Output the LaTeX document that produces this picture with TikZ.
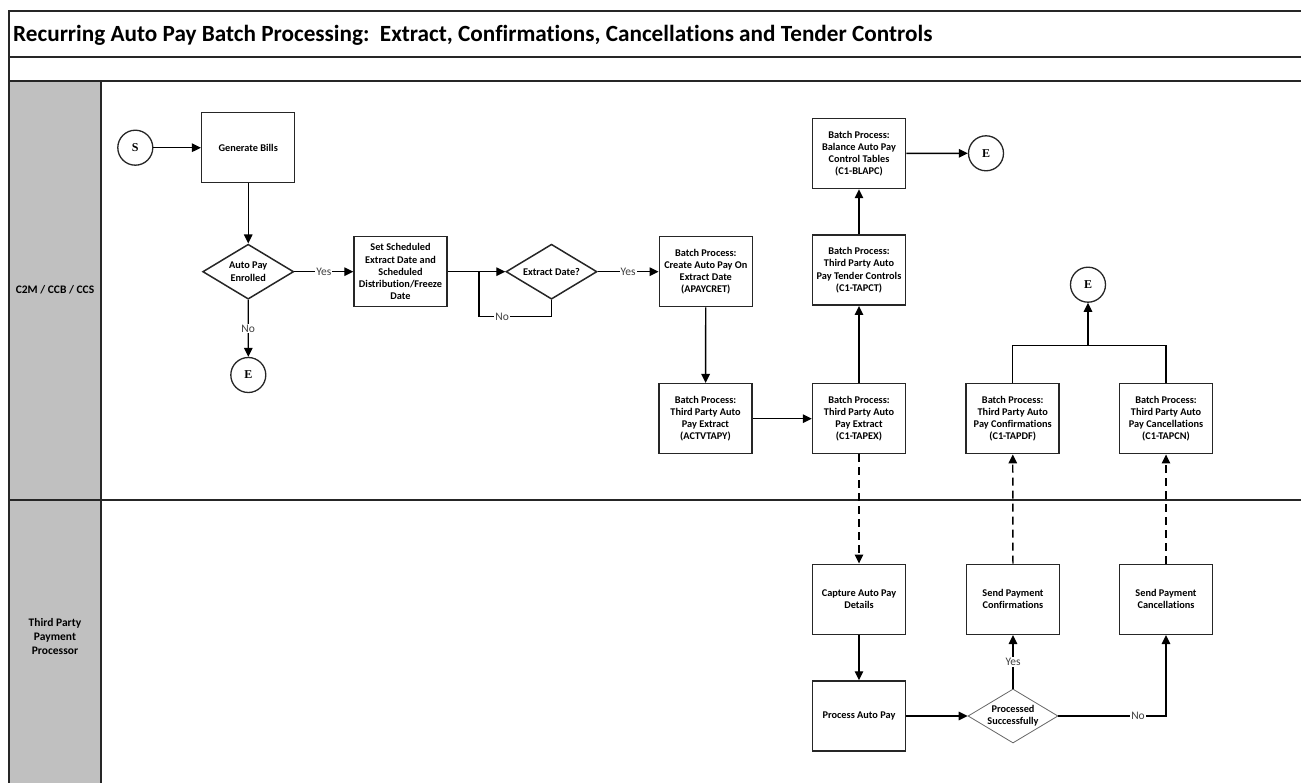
\documentclass[tikz,border=0pt]{standalone}
\usepackage{fontspec}
\usetikzlibrary{shapes.geometric,arrows.meta}
\newfontfamily\calfont[Ligatures=NoCommon]{Carlito}
\newfontfamily\serfont{Liberation Serif}
\definecolor{lanegray}{HTML}{C0C0C0}
\definecolor{boxline}{HTML}{262626}
\definecolor{lbltext}{HTML}{404040}
\tikzset{
  frameline/.style={line width=1.5pt, draw=boxline},
  box/.style={draw=boxline, line width=1.5pt, minimum width=93pt, minimum height=70pt, align=center, inner sep=1pt,
    font=\calfont\bfseries\fontsize{10.3}{12.2}\selectfont},
  dia/.style={diamond, draw=boxline, line width=1.5pt, minimum width=91pt, minimum height=55pt, inner sep=0pt},
  diatext/.style={align=center, inner sep=0pt, font=\calfont\bfseries\fontsize{10.3}{12.2}\selectfont},
  term/.style={circle, draw=boxline, line width=1.3pt, minimum size=35pt, inner sep=0pt,
    font=\serfont\bfseries\fontsize{12}{14}\selectfont},
  conn/.style={line width=1.4pt, draw=black},
  arr/.style={conn, -{Triangle[length=9pt,width=8.5pt]}},
  dasharr/.style={arr, dash pattern=on 8pt off 5pt},
  lbl/.style={fill=white, inner sep=1pt, text=lbltext, font=\calfont\fontsize{11.5}{12}\selectfont},
  lanelbl/.style={align=center, font=\calfont\bfseries\fontsize{11.5}{14}\selectfont}
}
\begin{document}
\begin{tikzpicture}[x=1pt,y=-1pt]
\useasboundingbox (0,0) rectangle (1301,783);
% frame
\fill[lanegray] (9,81) rectangle (101,783);
\draw[frameline] (9,783) -- (9,11) -- (1301,11);
\draw[frameline] (9,57) -- (1301,57);
\draw[frameline] (9,81) -- (1301,81);
\draw[frameline] (101,81) -- (101,783);
\draw[frameline] (9,500) -- (1301,500);
\node[anchor=base west, inner sep=0pt, font=\calfont\bfseries\fontsize{23.2}{27}\selectfont] (title) at (13,41.7)
  {Recurring Auto Pay Batch Processing:\ \ Extract, Confirmations, Cancellations and Tender Controls};
\node[lanelbl] (lane1) at (55,290) {C2M / CCB / CCS};
\node[lanelbl] (lane2) at (55,637) {Third Party\\Payment\\Processor};

% nodes
\node[term] (S) at (135.3,147.7) {S};
\node[box] (gen) at (248.2,147.7) {Generate Bills};
\node[dia] (d1) at (248.2,271.7) {};
\node[diatext] (d1t) at (d1.center) {Auto Pay\\Enrolled};
\node[term] (e1) at (248.3,375) {E};
\node[box] (set) at (400.5,271.7) {Set Scheduled\\Extract Date and\\Scheduled\\Distribution/Freeze\\Date};
\node[dia] (d2) at (551.5,271.7) {};
\node[diatext] (d2t) at (d2.center) {Extract Date?};
\node[box] (apay) at (705.8,271.7) {Batch Process:\\Create Auto Pay On\\Extract Date\\(APAYCRET)};
\node[box] (actv) at (705.5,418.7) {Batch Process:\\Third Party Auto\\Pay Extract\\(ACTVTAPY)};
\node[box] (tapex) at (859,418.7) {Batch Process:\\Third Party Auto\\Pay Extract\\(C1-TAPEX)};
\node[box] (tapct) at (859,270.2) {Batch Process:\\Third Party Auto\\Pay Tender Controls\\(C1-TAPCT)};
\node[box] (blapc) at (859,153.5) {Batch Process:\\Balance Auto Pay\\Control Tables\\(C1-BLAPC)};
\node[term] (e2) at (986,153.3) {E};
\node[box] (tapdf) at (1012.7,418.7) {Batch Process:\\Third Party Auto\\Pay Confirmations\\(C1-TAPDF)};
\node[box] (tapcn) at (1166,418.7) {Batch Process:\\Third Party Auto\\Pay Cancellations\\(C1-TAPCN)};
\node[term] (e3) at (1088,284.7) {E};
\coordinate (junc) at (1088,345.3);
\node[box] (capt) at (859,599.3) {Capture Auto Pay\\Details};
\node[box] (proc) at (859,716) {Process Auto Pay};
\node[dia, draw=black!60, line width=0.8pt, minimum width=90pt, minimum height=54pt] (d3) at (1013,716) {};
\node[diatext] (d3t) at (d3.center) {Processed\\Successfully};
\node[box] (sconf) at (1013,599.3) {Send Payment\\Confirmations};
\node[box] (scanc) at (1166,599.3) {Send Payment\\Cancellations};
\coordinate (loopc) at (479,316.7);
\coordinate (loopj) at (479,271.7);

% connectors
\draw[arr] (S) -- (gen);
\draw[arr] (gen) -- (d1);
\draw[arr] (d1.east) -- node[lbl]{Yes} (set.west);
\draw[arr] (d1.south) -- node[lbl]{No} (e1);
\draw[arr] (set.east) -- (d2.west);
\draw[conn] (d2.south) |- node[lbl, pos=0.84]{No} (loopc) -- (loopj);
\draw[arr] (d2.east) -- node[lbl]{Yes} (apay.west);
\draw[arr] (apay) -- (actv);
\draw[arr] (actv) -- (tapex);
\draw[arr] (tapex) -- (tapct);
\draw[arr] (tapct) -- (blapc);
\draw[arr] (blapc) -- (e2);
\draw[conn] (tapdf.north) |- (junc);
\draw[conn] (tapcn.north) |- (junc);
\draw[arr] (junc) -- (e3);
\draw[dasharr] (tapex) -- (capt);
\draw[dasharr] (sconf) -- (tapdf);
\draw[dasharr] (scanc) -- (tapcn);
\draw[arr] (capt) -- (proc);
\draw[arr] (proc) -- (d3.west);
\draw[arr] (d3.north) -- node[lbl]{Yes} (sconf.south);
\draw[arr] (d3.east) -| node[lbl, pos=0.37]{No} (scanc.south);
\end{tikzpicture}
\end{document}
